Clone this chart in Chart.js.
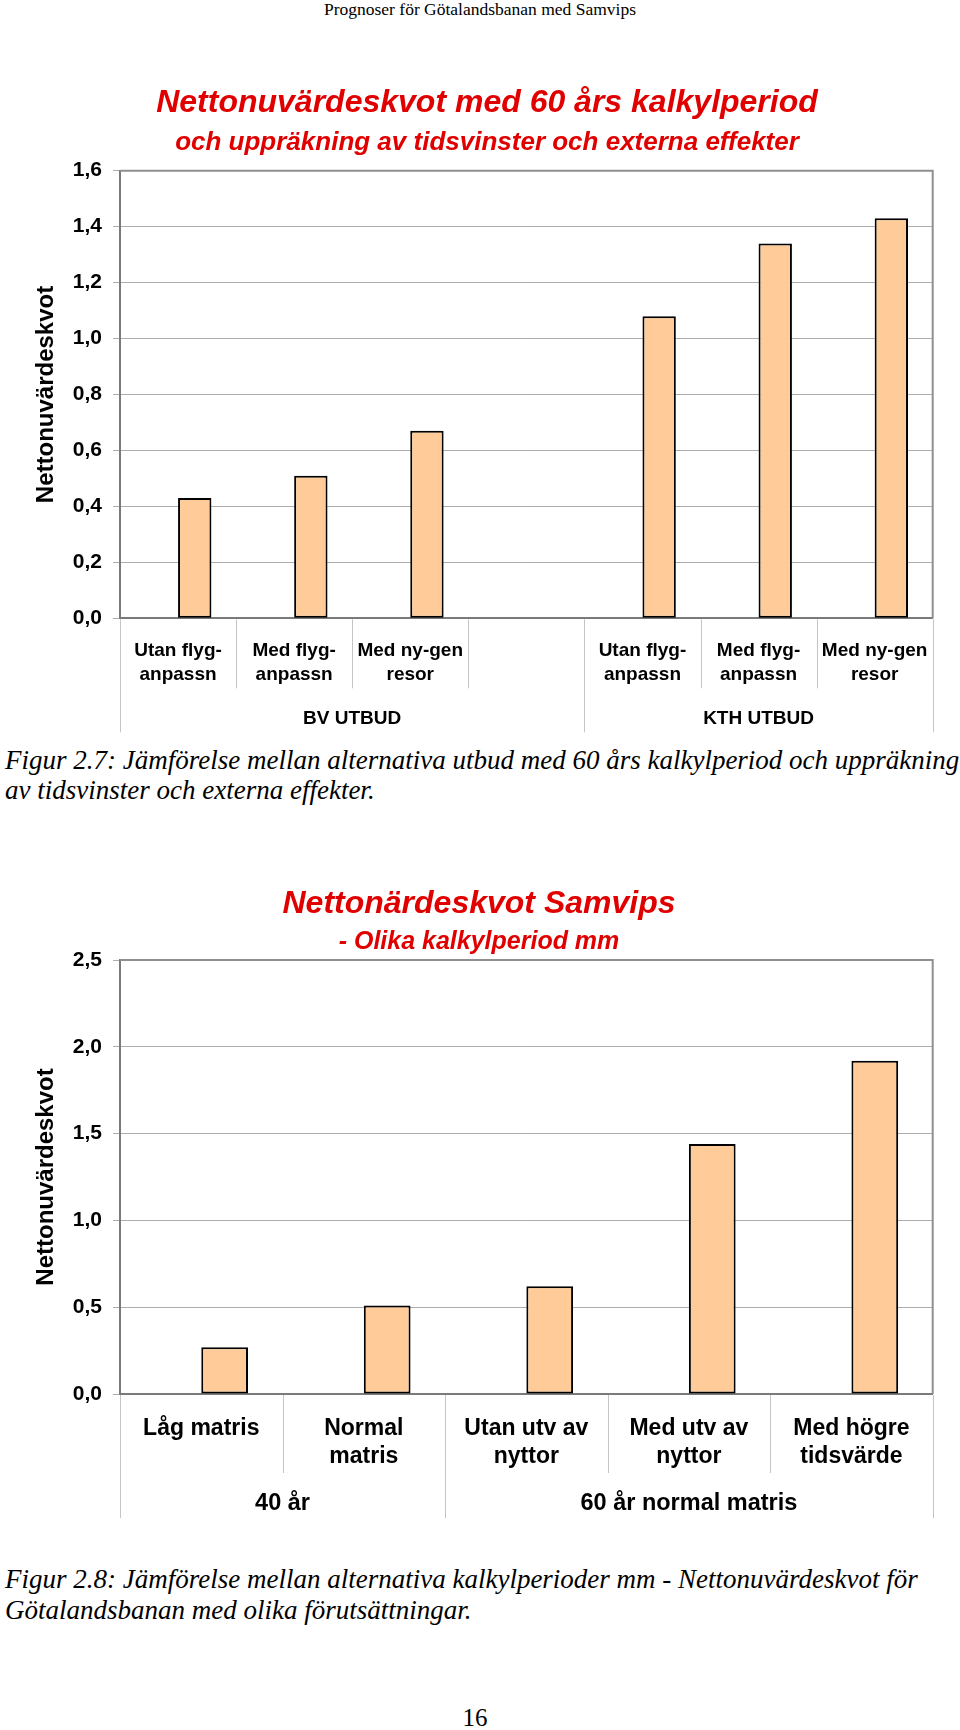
<!DOCTYPE html>
<html>
<head>
<meta charset="utf-8">
<script src="https://cdn.jsdelivr.net/npm/chart.js@4.4.1/dist/chart.umd.min.js"></script>
<style>
  body { margin: 0; background: #fff; }
  #page { position: relative; width: 960px; height: 1730px; overflow: hidden; background: #fff; }
  .abs { position: absolute; }
  .hdr { top: -1px; left: 0; width: 960px; text-align: center; font: 17.5px/20px 'Liberation Serif', 'Times New Roman', serif; color: #000; }
  .cap { left: 5px; white-space: nowrap; font: italic 27px/30px 'Liberation Serif', 'Times New Roman', serif; color: #000; }
  .pgno { left: 0; width: 950px; text-align: center; font: 25px/30px 'Liberation Serif', 'Times New Roman', serif; color: #000; }
  .wrap { left: 0; width: 960px; }
</style>
</head>
<body>
<div id="page">
  <div class="abs hdr">Prognoser för Götalandsbanan med Samvips</div>

  <div class="abs wrap" style="top:60px;height:680px"><canvas id="chart1"></canvas></div>
  <div class="abs cap" style="top:745px">Figur 2.7: Jämförelse mellan alternativa utbud med 60 års kalkylperiod och uppräkning<br>av tidsvinster och externa effekter.</div>

  <div class="abs wrap" style="top:850px;height:680px"><canvas id="chart2"></canvas></div>
  <div class="abs cap" style="top:1564px;line-height:31px">Figur 2.8: Jämförelse mellan alternativa kalkylperioder mm - Nettonuvärdeskvot för<br>Götalandsbanan med olika förutsättningar.</div>

  <div class="abs pgno" style="top:1703px">16</div>
</div>

<script>
// Chart 1 - 60 års kalkylperiod
const title1 = 'Nettonuvärdeskvot med 60 års kalkylperiod';
const subtitle1 = 'och uppräkning av tidsvinster och externa effekter';
const labels1 = [['Utan flyg-', 'anpassn'], ['Med flyg-', 'anpassn'], ['Med ny-gen', 'resor'], '',
                 ['Utan flyg-', 'anpassn'], ['Med flyg-', 'anpassn'], ['Med ny-gen', 'resor']];
const values1 = [0.43, 0.51, 0.67, null, 1.08, 1.34, 1.43];
const blank1 = [null, null, null, null, null, null, null]; // empty first series (Excel layout)
const groups1 = ['BV UTBUD', 'KTH UTBUD'];
const groupSizes1 = [4, 3];

// Chart 2 - olika kalkylperiod
const title2 = 'Nettonärdeskvot Samvips';
const subtitle2 = '- Olika kalkylperiod mm';
const labels2 = ['Låg matris', ['Normal', 'matris'], ['Utan utv av', 'nyttor'], ['Med utv av', 'nyttor'], ['Med högre', 'tidsvärde']];
const values2 = [0.27, 0.51, 0.62, 1.44, 1.92];
const blank2 = [null, null, null, null, null];
const groups2 = ['40 år', '60 år normal matris'];
const groupSizes2 = [2, 3];

const yTitle = 'Nettonuvärdeskvot';

const red = '#e00000';
const barColor = '#ffcc99';
const axisGray = '#7a7a7a';
const gridGray = '#adadad';
const sepGray = '#c4c4c4';

Chart.defaults.font.family = "'Liberation Sans', Arial, sans-serif";
Chart.defaults.color = '#000';

const fmt = v => v.toFixed(1).replace('.', ',');

// separators, group labels and plot frame under/around the category axis
const groupPlugin = {
  id: 'groups',
  afterDraw(chart, args, opts) {
    const { ctx, chartArea } = chart;
    const x = chart.scales.x;
    const n = chart.data.labels.length;
    const edge = i => i === 0 ? x.left : i === n ? x.right
      : (x.getPixelForValue(i - 1) + x.getPixelForValue(i)) / 2;

    const bounds = [0];
    opts.sizes.forEach(s => bounds.push(bounds[bounds.length - 1] + s));

    ctx.save();
    ctx.strokeStyle = sepGray;
    ctx.lineWidth = 1;
    for (let i = 0; i <= n; i++) {
      const px = Math.round(edge(i)) + 0.5;
      const depth = bounds.includes(i) ? opts.groupDepth : opts.catDepth;
      ctx.beginPath();
      ctx.moveTo(px, chartArea.bottom + 1);
      ctx.lineTo(px, chartArea.bottom + depth);
      ctx.stroke();
    }

    ctx.fillStyle = '#000';
    ctx.font = 'bold ' + opts.size + 'px ' + Chart.defaults.font.family;
    ctx.textAlign = 'center';
    ctx.textBaseline = 'middle';
    opts.names.forEach((name, g) => {
      const cx = (edge(bounds[g]) + edge(bounds[g + 1])) / 2;
      ctx.fillText(name, cx, chartArea.bottom + opts.labelY);
    });

    // top and right frame of the plot
    ctx.strokeStyle = '#8f8f8f';
    ctx.lineWidth = 2;
    ctx.beginPath();
    ctx.moveTo(chartArea.left, chartArea.top);
    ctx.lineTo(chartArea.right, chartArea.top);
    ctx.lineTo(chartArea.right, chartArea.bottom);
    ctx.stroke();
    ctx.restore();
  }
};

function barChart(id, o) {
  return new Chart(document.getElementById(id), {
    type: 'bar',
    data: {
      labels: o.labels,
      datasets: [
        { data: o.blank, backgroundColor: barColor },
        { data: o.values, backgroundColor: barColor, borderColor: '#000', borderWidth: 2, borderSkipped: false }
      ]
    },
    options: {
      animation: false,
      responsive: true,
      maintainAspectRatio: false,
      layout: { padding: o.padding },
      datasets: { bar: { categoryPercentage: 0.575, barPercentage: 1 } },
      plugins: {
        legend: { display: false },
        tooltip: { enabled: false },
        title: { display: true, text: o.title, color: red, font: { size: o.titleSize, style: 'italic', weight: 'bold' }, padding: o.titlePad },
        subtitle: { display: true, text: o.subtitle, color: red, font: { size: o.subSize, style: 'italic', weight: 'bold' }, padding: o.subPad },
        groups: o.groups
      },
      scales: {
        x: {
          grid: { display: false, drawTicks: false },
          border: { color: axisGray, width: 2 },
          ticks: { color: '#000', padding: o.xPad, maxRotation: 0, autoSkip: false,
                   font: { size: o.xSize, weight: 'bold', lineHeight: o.xLine } }
        },
        y: {
          min: 0,
          max: o.max,
          afterFit: s => { s.width = o.yWidth; },
          grid: { color: gridGray, tickLength: 7 },
          border: { color: axisGray, width: 2 },
          ticks: { stepSize: o.step, color: '#000', padding: 11, font: { size: 21, weight: 'bold' }, callback: fmt },
          title: { display: true, text: yTitle, color: '#000', font: { size: 24, weight: 'bold' }, padding: { top: o.yTitlePad, bottom: 0 } }
        }
      }
    },
    plugins: [groupPlugin]
  });
}

barChart('chart1', {
  labels: labels1, values: values1, blank: blank1,
  title: title1, subtitle: subtitle1, titleSize: 32, subSize: 26,
  titlePad: { top: 24.4, bottom: 0 }, subPad: { top: 4.2, bottom: 12.5 },
  padding: { top: 0, left: 41.3, right: 27.3, bottom: 33.7 },
  max: 1.6, step: 0.2, yWidth: 78.7, yTitlePad: -9.7,
  xSize: 19, xLine: '24px', xPad: 20,
  groups: { names: groups1, sizes: groupSizes1, catDepth: 70, groupDepth: 114, labelY: 100.4, size: 19 }
});

barChart('chart2', {
  labels: labels2, values: values2, blank: blank2,
  title: title2, subtitle: subtitle2, titleSize: 32, subSize: 25,
  titlePad: { top: 35.1, bottom: 1.4 }, subPad: { top: 1.8, bottom: 3.3 },
  padding: { top: 0, left: 25.3, right: 27.3, bottom: 38 },
  max: 2.5, step: 0.5, yWidth: 94.7, yTitlePad: 6.3,
  xSize: 23, xLine: '28px', xPad: 21,
  groups: { names: groups2, sizes: groupSizes2, catDepth: 79, groupDepth: 124, labelY: 110, size: 23.5 }
});
</script>
</body>
</html>
